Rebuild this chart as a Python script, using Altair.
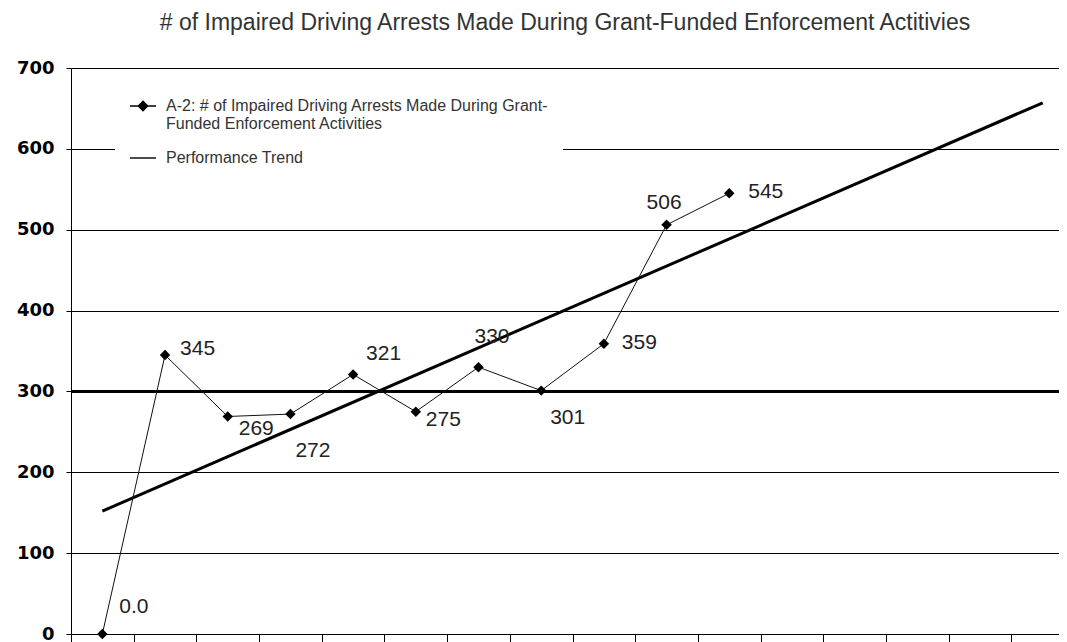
import altair as alt
import pandas as pd

# ---------------- data ----------------
periods = list(range(1, 12))
arrests = [0, 345, 269, 272, 321, 275, 330, 301, 359, 506, 545]
value_labels = ["0.0", "345", "269", "272", "321", "275", "330", "301", "359", "506", "545"]
trend_periods = [1, 16]
trend_values = [152, 657]
target_values = [300]
y_ticks = [0, 100, 200, 300, 400, 500, 600, 700]
x_tick_edges = [p + 0.5 for p in range(0, 16)]

series_a = "A-2: # of Impaired Driving Arrests Made During Grant-|Funded Enforcement Activities"
series_t = "Performance Trend"
title_text = "# of Impaired Driving Arrests Made During Grant-Funded Enforcement Actitivies"

# label nudges (style, keyed by label)
label_nudge = {
    "0.0": (17, -27), "345": (15, -6), "269": (11, 13), "272": (5, 37),
    "321": (13, -20), "275": (10, 8), "330": (-4, -30), "301": (9, 27),
    "359": (18, -1), "506": (-20, -22), "545": (19, -1),
}

df = pd.DataFrame({"period": periods, "value": arrests, "label": value_labels})
trend_df = pd.DataFrame({"period": trend_periods, "value": trend_values})
target_df = pd.DataFrame({"value": target_values})
legend_df = pd.DataFrame({"series": [series_a, series_t]})

x_enc = alt.X(
    "period:Q",
    scale=alt.Scale(domain=[0.5, 16.26], nice=False, zero=False),
    axis=alt.Axis(values=x_tick_edges, labels=False, ticks=True, tickSize=8,
                  tickColor="black", tickWidth=1, grid=False, domain=False, title=None),
)
y_enc = alt.Y(
    "value:Q",
    scale=alt.Scale(domain=[0, 700], nice=False, zero=True),
    axis=alt.Axis(values=y_ticks, grid=True, gridColor="black", gridWidth=1.2,
                  gridOpacity=1, domain=True, domainColor="black", domainWidth=1,
                  tickSize=5, tickColor="black", labelFont="DejaVu Sans",
                  labelFontWeight="bold", labelFontSize=18, labelColor="black",
                  labelPadding=12, title=None),
)

target = alt.Chart(target_df).mark_rule(color="black", strokeWidth=3).encode(y=y_enc)

trend = alt.Chart(trend_df).mark_line(color="black", strokeWidth=3).encode(x=x_enc, y=y_enc)

series_line = alt.Chart(df).mark_line(color="#111", strokeWidth=1).encode(x=x_enc, y=y_enc)

points = alt.Chart(df).mark_point(shape="diamond", filled=True, color="black",
                                  size=110, opacity=1).encode(x=x_enc, y=y_enc)

label_layers = []
for lab, (ddx, ddy) in label_nudge.items():
    label_layers.append(
        alt.Chart(df).transform_filter(alt.datum.label == lab).mark_text(
            align="left", baseline="middle", dx=ddx, dy=ddy,
            font="Liberation Sans", fontSize=21, color="#222",
        ).encode(x=x_enc, y=y_enc, text="label:N")
    )

path_a = ("M-1,0H1"
          "M0,-0.36L0.36,0L0,0.36L-0.36,0Z"
          "M0,-0.25L0.25,0L0,0.25L-0.25,0Z"
          "M0,-0.14L0.14,0L0,0.14L-0.14,0Z"
          "M0,-0.05L0.05,0L0,0.05L-0.05,0Z")
path_t = "M-1,0H1"

legend_layer = alt.Chart(legend_df).transform_filter("false").mark_point(
    filled=False, color="black", strokeWidth=1.4, opacity=1
).encode(
    shape=alt.Shape(
        "series:N",
        scale=alt.Scale(domain=[series_a, series_t], range=[path_a, path_t]),
        legend=alt.Legend(
            orient="none", legendX=44, legendY=10, title=None, fillColor="white",
            padding=14, labelFont="Liberation Sans", labelFontSize=16,
            labelColor="#333", labelExpr="split(datum.label, '|')",
            labelLimit=800, symbolSize=676, symbolStrokeColor="black",
            symbolStrokeWidth=1.4, rowPadding=12, labelOffset=9,
        ),
    )
)

chart = alt.layer(
    target, trend, series_line, points, *label_layers, legend_layer
).properties(
    width=988,
    height=566,
    autosize="none",
    padding={"left": 63, "top": 60, "right": 0, "bottom": 8},
    background="white",
    title=alt.TitleParams(
        title_text, font="Liberation Sans", fontSize=23, fontWeight="normal",
        color="#333", anchor="middle", offset=24,
    ),
).configure_view(stroke=None)

chart.save("out.html", embed_options={"renderer": "svg", "actions": False})
